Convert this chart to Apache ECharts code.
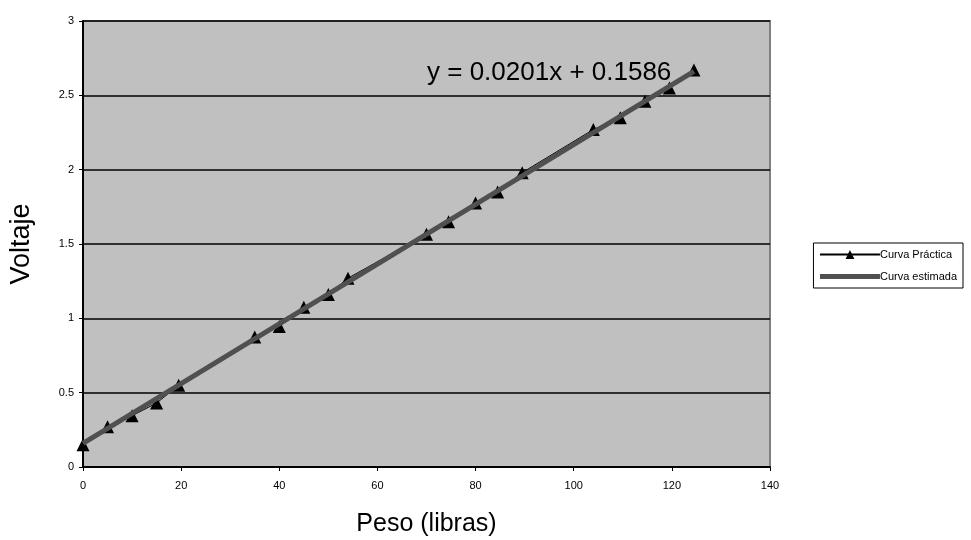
<!DOCTYPE html>
<html>
<head>
<meta charset="utf-8">
<script src="https://cdn.jsdelivr.net/npm/echarts@6/dist/echarts.min.js"></script>
<style>
  html,body{margin:0;padding:0;background:#fff;}
  #chart{width:971px;height:540px;}
</style>
</head>
<body>
<div id="chart"></div>
<script>
  // datos
  var pesos = [0, 5, 10, 15, 19.5, 35, 40, 45, 50, 54, 70, 74.5, 80, 84.5, 89.5, 104, 109.5, 114.5, 119.5, 124.5];
  var voltajes = [0.15, 0.27, 0.345, 0.43, 0.55, 0.875, 0.945, 1.075, 1.16, 1.27, 1.565, 1.65, 1.775, 1.85, 1.98, 2.27, 2.35, 2.46, 2.55, 2.67];
  // curva estimada (tendencia lineal), extremos
  var estimX = [0, 124.5];
  var estimY = [0.1586, 2.661];
  var xTicks = [0, 20, 40, 60, 80, 100, 120, 140];
  var yTicks = [0, 0.5, 1, 1.5, 2, 2.5, 3];

  var practica = pesos.map(function(p, i){ return [p, voltajes[i]]; });
  var estimada = estimX.map(function(p, i){ return [p, estimY[i]]; });

  var chart = echarts.init(document.getElementById('chart'));
  var font = 'Liberation Sans, Arial, sans-serif';
  var option = {
    animation: false,
    textStyle: {fontFamily: font},
    grid: {
      left: 83, right: 201, top: 21, bottom: 73,
      outerBoundsMode: 'none',
      show: true, backgroundColor: '#c0c0c0', borderColor: '#808080', borderWidth: 2
    },
    legend: {
      orient: 'vertical',
      right: 8, top: 243,
      padding: [6, 6, 6, 4],
      itemGap: 11,
      itemWidth: 60, itemHeight: 11,
      borderColor: '#000', borderWidth: 1,
      textStyle: {fontFamily: font, fontSize: 11, color: '#000', padding: [0, 0, 0, -5]},
      data: [
        {name: 'Curva Práctica'},
        {name: 'Curva estimada', itemStyle: {opacity: 0}, lineStyle: {color: '#505050', width: 5}}
      ]
    },
    xAxis: {
      type: 'value',
      min: xTicks[0], max: xTicks[xTicks.length - 1], interval: 20,
      name: 'Peso (libras)', nameLocation: 'middle', nameGap: 45,
      nameTextStyle: {fontFamily: font, fontSize: 25, color: '#000'},
      axisLine: {lineStyle: {color: '#000', width: 2}},
      axisTick: {show: true, length: 4, lineStyle: {color: '#000'}},
      axisLabel: {fontFamily: font, fontSize: 11, color: '#000', margin: 13},
      splitLine: {show: false}
    },
    yAxis: {
      type: 'value',
      min: yTicks[0], max: yTicks[yTicks.length - 1], interval: 0.5,
      name: 'Voltaje', nameLocation: 'middle', nameGap: 48,
      nameTextStyle: {fontFamily: font, fontSize: 27, color: '#000'},
      axisLine: {show: true, lineStyle: {color: '#000', width: 2}},
      axisTick: {show: true, length: 4, lineStyle: {color: '#000'}},
      axisLabel: {fontFamily: font, fontSize: 11, color: '#000', margin: 9},
      splitLine: {show: true, lineStyle: {color: '#000', width: 1.5}}
    },
    graphic: [{
      type: 'text', left: 427, top: 60, z: 10,
      style: {text: 'y = 0.0201x + 0.1586', fontFamily: font, fontSize: 26, fill: '#000'}
    }],
    series: [
      {
        name: 'Curva Práctica',
        type: 'line',
        data: practica,
        symbol: 'triangle',
        symbolSize: 13,
        itemStyle: {color: '#000'},
        lineStyle: {color: '#000', width: 1},
        z: 2
      },
      {
        name: 'Curva estimada',
        type: 'line',
        data: estimada,
        symbol: 'none',
        itemStyle: {color: '#505050'},
        lineStyle: {color: '#505050', width: 5},
        z: 3
      }
    ]
  };
  chart.setOption(option);
</script>
</body>
</html>
